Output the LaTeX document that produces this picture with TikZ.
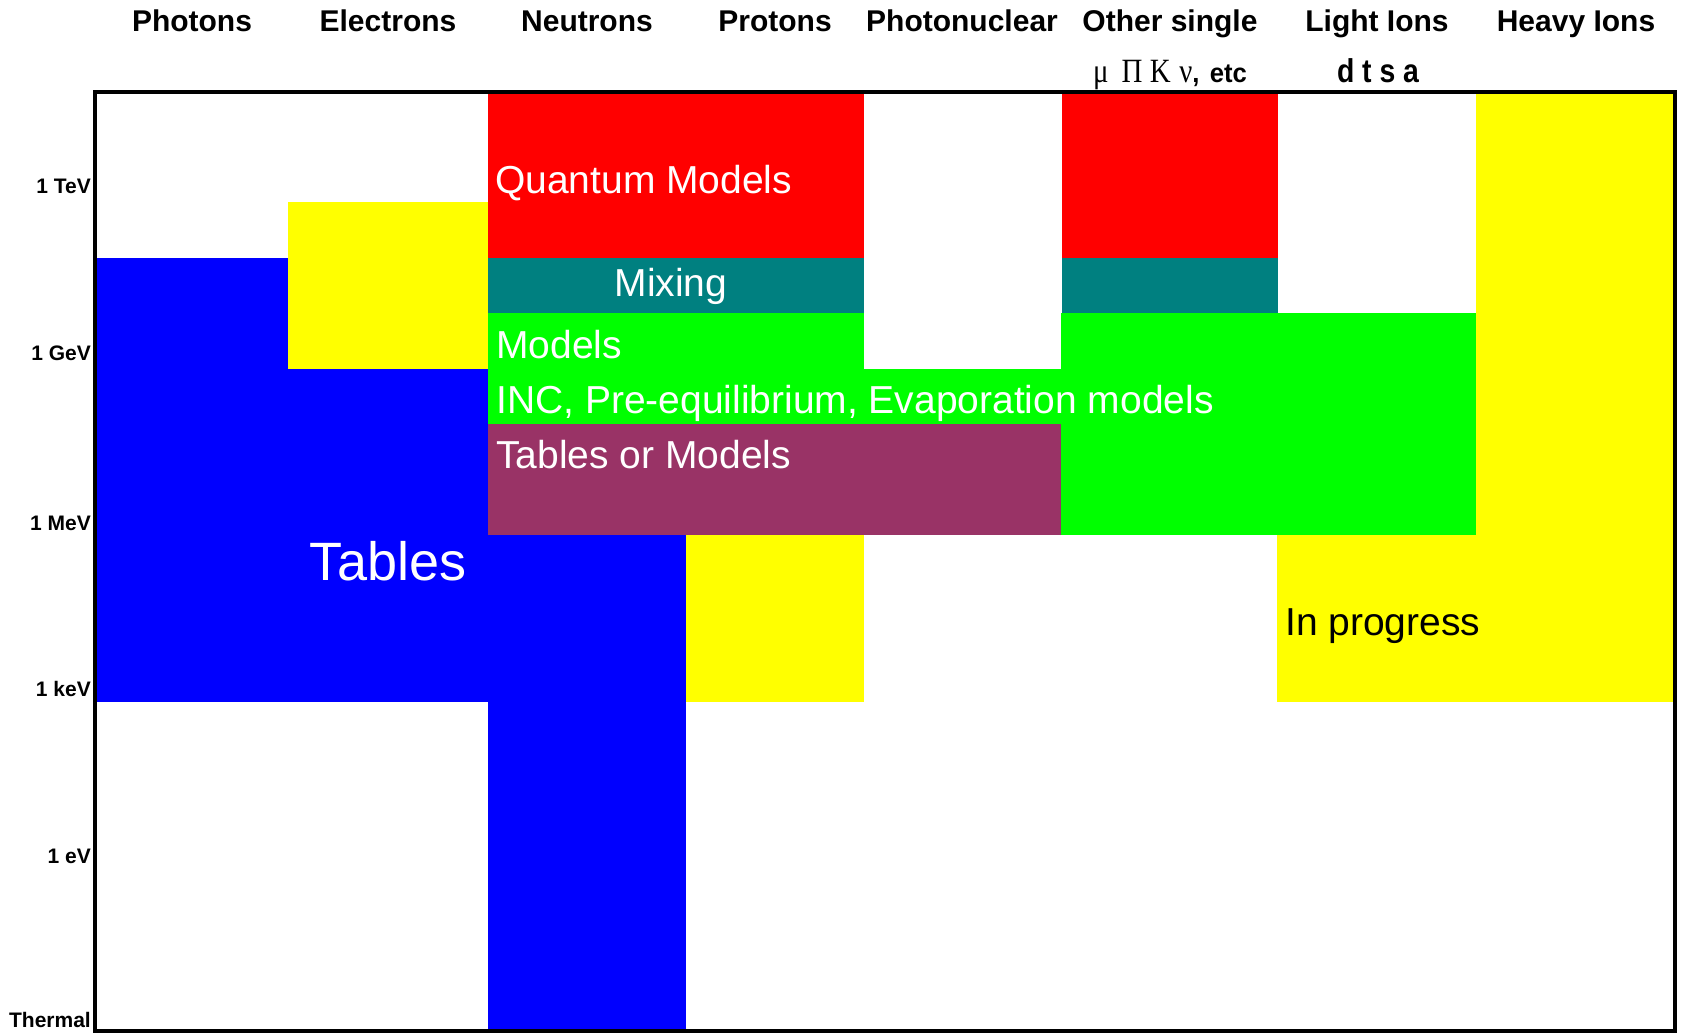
\documentclass[tikz,border=0pt]{standalone}
\usepackage{fontspec}
\setmainfont{Liberation Sans}
\newfontfamily\serifgreek{Liberation Serif}
\definecolor{cblue}{HTML}{0000FF}
\definecolor{cyellow}{HTML}{FFFF00}
\definecolor{cred}{HTML}{FF0000}
\definecolor{cteal}{HTML}{008080}
\definecolor{cgreen}{HTML}{00FF00}
\definecolor{cplum}{HTML}{993366}
\begin{document}
\begin{tikzpicture}[x=1pt,y=-1pt,
  header/.style={inner sep=0pt,anchor=base,font=\fontsize{30}{32}\selectfont\bfseries},
  subheader/.style={inner sep=0pt,anchor=base,font=\fontsize{27}{29}\selectfont\bfseries},
  energy/.style={inner sep=0pt,anchor=base east,font=\fontsize{21}{23}\selectfont\bfseries},
  inlabel/.style={inner sep=0pt,anchor=base west,text=white,font=\fontsize{39}{41}\selectfont},
]
\useasboundingbox (0,0) rectangle (1681,1033);
\fill[white] (0,0) rectangle (1681,1033);

% Photons, electrons and neutrons: tabulated data
\fill[cblue] (95,258) rectangle (288,702);
\fill[cblue] (288,369) rectangle (488,702);
\fill[cblue] (488,535) rectangle (686,1031);
% Electrons high energy
\fill[cyellow] (288,202) rectangle (488,369);
% Quantum models
\fill[cred] (488,92) rectangle (864,258);
\fill[cred] (1062,92) rectangle (1278,258);
% Mixing band
\fill[cteal] (488,258) rectangle (864,313);
\fill[cteal] (1062,258) rectangle (1278,313);
% Cascade / pre-equilibrium / evaporation models
\fill[cgreen] (488,313) rectangle (864,424);
\fill[cgreen] (864,369) rectangle (1062,424);
\fill[cgreen] (1061,313) rectangle (1476,535);
% Tables or models
\fill[cplum] (488,424) rectangle (1061,535);
% Work in progress
\fill[cyellow] (686,535) rectangle (864,702);
\fill[cyellow] (1277,535) rectangle (1476,702);
\fill[cyellow] (1476,92) rectangle (1675,702);

% Frame
\draw[line width=4pt] (95,1031) -- (95,92) -- (1675,92) -- (1675,1031);
\draw[line width=4pt] (93,1031) -- (1677,1031);

% Column headers
\node[header] (hph) at (192,32) {Photons};
\node[header] (hel) at (388,32) {Electrons};
\node[header] (hne) at (587,32) {Neutrons};
\node[header] (hpr) at (775,32) {Protons};
\node[header] (hpn) at (962,32) {Photonuclear};
\node[header] (hos) at (1170,32) {Other single};
\node[header] (hli) at (1377,32) {Light Ions};
\node[header] (hhi) at (1576,32) {Heavy Ions};
\node[subheader,anchor=base west] (sos) at (1093,82)
  {\scalebox{0.85}[1]{\fontsize{34}{36}\selectfont\serifgreek\mdseries μ\hspace{0.45em}Π\hspace{0.25em}K\hspace{0.3em}ν}\scalebox{0.95}[1]{,\hspace{0.4em}etc}};
\node[subheader] (sli) at (1378,82)
  {\scalebox{0.86}[1]{\fontsize{33}{35}\selectfont d t s a}};

% Energy scale
\node[energy] (etev) at (91,193) {1 TeV};
\node[energy] (egev) at (91,360) {1 GeV};
\node[energy] (emev) at (91,530) {1 MeV};
\node[energy] (ekev) at (91,696) {1 keV};
\node[energy] (eev) at (91,863) {1 eV};
\node[energy] (eth) at (91,1027) {Thermal};

% Region labels
\node[inlabel] (lqm) at (495,193) {Quantum Models};
\node[inlabel,anchor=base] (lmix) at (671,296) {Mixing};
\node[inlabel] (lmod) at (496,358) {Models};
\node[inlabel] (linc) at (496,413) {INC, Pre-equilibrium, Evaporation models};
\node[inlabel] (ltom) at (496,468) {Tables or Models};
\node[inlabel,anchor=base,font=\fontsize{54}{56}\selectfont] (ltab) at (388,580) {Tables};
\node[inlabel,text=black] (lprog) at (1285,635) {In progress};
\end{tikzpicture}
\end{document}
